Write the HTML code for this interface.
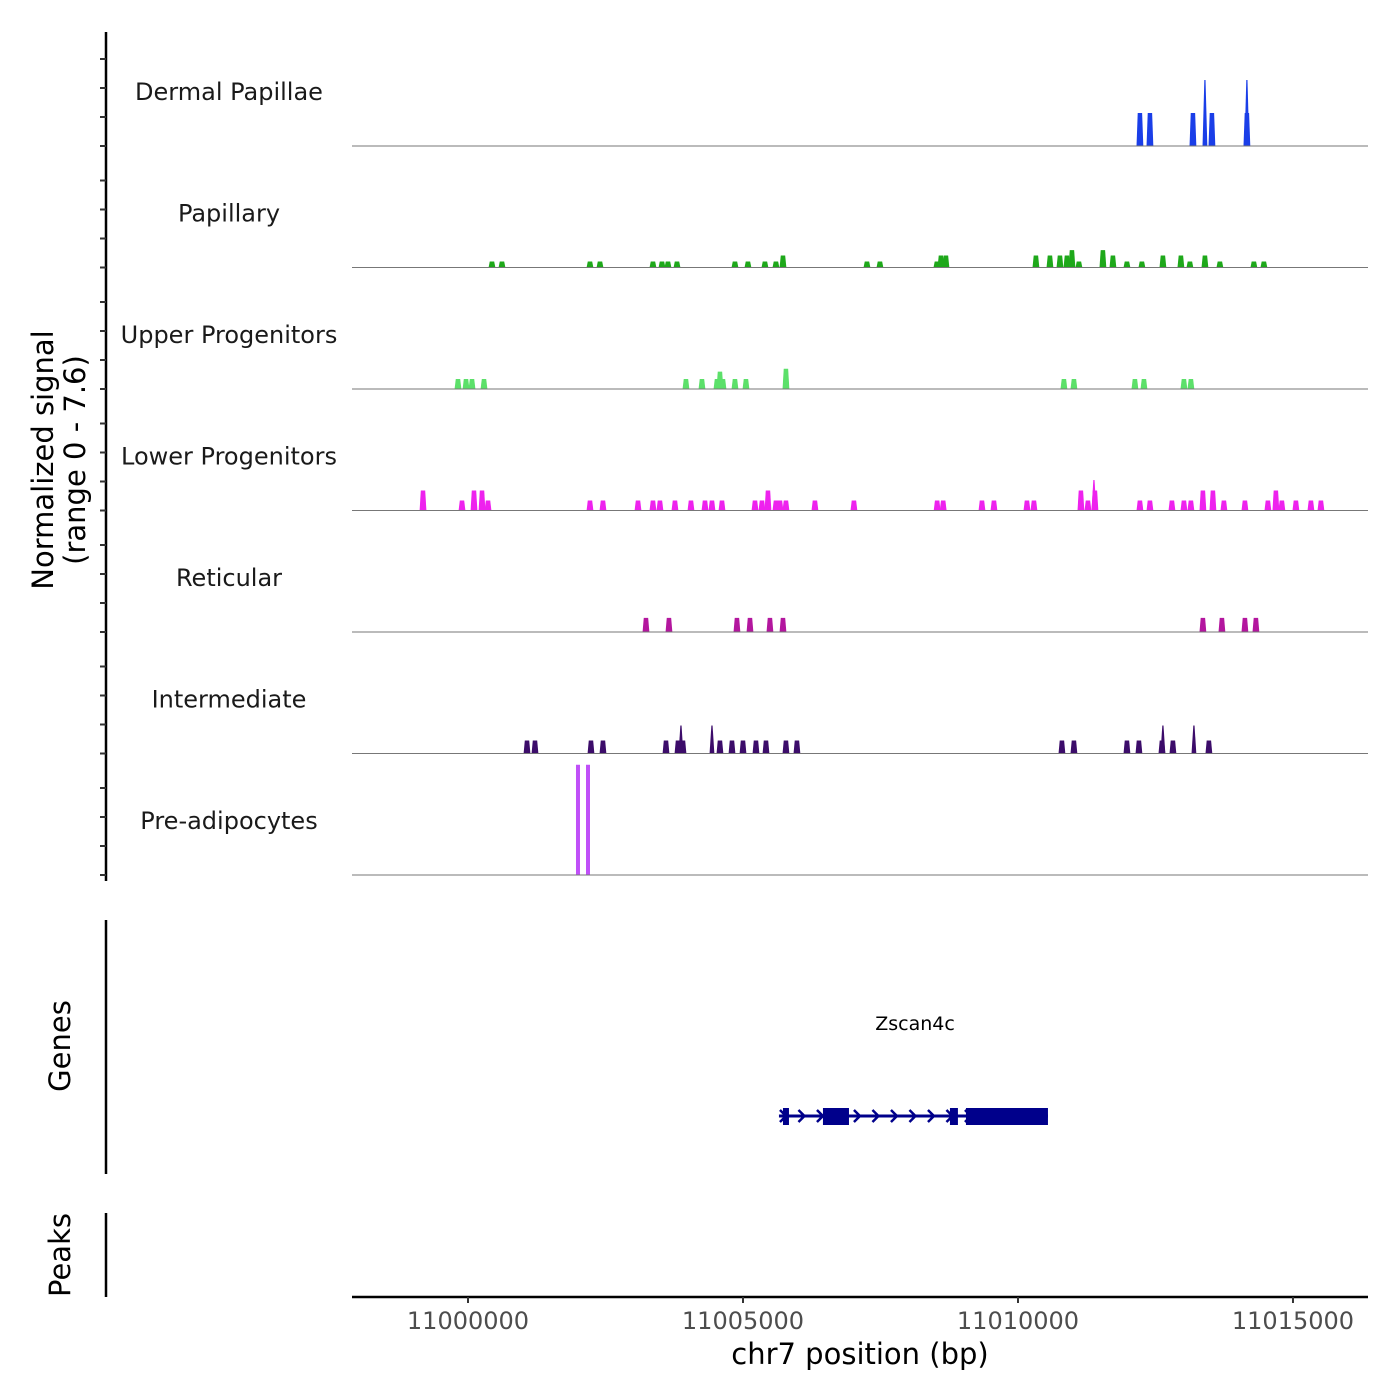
<!DOCTYPE html>
<html><head><meta charset="utf-8"><style>
html,body{margin:0;padding:0;background:#fff;}
svg{display:block;font-family:"DejaVu Sans","Liberation Sans",sans-serif;}
</style></head><body>
<svg id="chart" width="1400" height="1400" viewBox="0 0 1400 1400"></svg>
<script>
// ---- data ----
const trackNames = ["Dermal Papillae","Papillary","Upper Progenitors","Lower Progenitors","Reticular","Intermediate","Pre-adipocytes"];
const trackColors = ["#1a3ee8","#1ea81a","#5ce06a","#ee22ee","#b3169e","#3c0c6a","#c050f8"];
const dpPos = [11012217,11012399,11013181,11013399,11013526,11014162,11014162];
const dpVal = [2.28,2.28,2.28,4.55,2.28,2.28,4.55];
const papPos = [11000436,11000618,11002218,11002400,11003363,11003527,11003636,11003800,11004854,11005090,11005399,11005599,11005727,11007254,11007490,11008526,11008599,11008690,11010326,11010581,11010763,11010890,11010981,11011108,11011544,11011726,11011981,11012253,11012635,11012962,11013126,11013399,11013671,11014289,11014471];
const papVal = [.41,.41,.41,.41,.41,.41,.41,.41,.41,.41,.41,.41,.83,.41,.41,.41,.83,.83,.83,.83,.83,.83,1.2,.41,1.2,.83,.41,.41,.83,.83,.41,.83,.41,.41,.41];
const upPos = [10999818,10999964,11000073,11000291,11003963,11004254,11004527,11004581,11004636,11004854,11005054,11005781,11010835,11011017,11012126,11012290,11013017,11013144];
const upVal = [.69,.69,.69,.69,.69,.69,.69,1.2,.69,.69,.69,1.4,.69,.69,.69,.69,.69,.69];
const lowPos = [10999182,10999891,11000109,11000255,11000364,11002218,11002454,11003091,11003363,11003490,11003763,11004054,11004309,11004436,11004618,11005218,11005345,11005454,11005599,11005672,11005781,11006308,11007017,11008530,11008640,11009345,11009563,11010163,11010290,11011144,11011272,11011381,11011399,11012217,11012399,11012799,11013017,11013144,11013362,11013544,11013744,11014126,11014544,11014689,11014798,11015053,11015326,11015508];
const lowVal = [1.38,.69,1.38,1.38,.69,.69,.69,.69,.69,.69,.69,.69,.69,.69,.69,.69,.69,1.38,.69,.69,.69,.69,.69,.69,.69,.69,.69,.69,.69,1.38,.69,2.1,1.38,.69,.69,.69,.69,.69,1.38,1.38,.69,.69,.69,1.38,.69,.69,.69,.69];
const retPos = [11003236,11003654,11004890,11005127,11005490,11005727,11013362,11013708,11014126,11014326];
const retVal = [.97,.97,.97,.97,.97,.97,.97,.97,.97,.97];
const intPos = [11001073,11001218,11002236,11002454,11003600,11003818,11003872,11003909,11004436,11004581,11004800,11005000,11005236,11005418,11005781,11005981,11010799,11011017,11011981,11012199,11012617,11012635,11012817,11013199,11013471];
const intVal = [.9,.9,.9,.9,.9,.9,1.93,.9,1.93,.9,.9,.9,.9,.9,.9,.9,.9,.9,.9,.9,.9,1.93,.9,1.93,.9];
const prePos = [11002000,11002182];
const preVal = [7.6,7.6];
const xTicks = [11000000,11005000,11010000,11015000];
const geneStart = 11005654, geneEnd = 11010545;
const exonStarts = [11005727,11006454,11008763,11009054];
const exonEnds = [11005836,11006927,11008908,11010545];

// ---- scales ----
const X0 = 352, X1 = 1368, BP0 = 10997891, BP1 = 11016364;
const xs = bp => X0 + (bp - BP0) / (BP1 - BP0) * (X1 - X0);
const baselines = [146,267.5,389,510.5,632,753.5,875];
const ys = (t, v) => baselines[t] - v * 14.5;

const svg = document.getElementById('chart');
const NS = 'http://www.w3.org/2000/svg';
function mk(tag, attrs, parent){ const e=document.createElementNS(NS,tag); for(const k in attrs) e.setAttribute(k,attrs[k]); (parent||svg).appendChild(e); return e; }

const series = [[dpPos,dpVal],[papPos,papVal],[upPos,upVal],[lowPos,lowVal],[retPos,retVal],[intPos,intVal],[prePos,preVal]];
series.forEach((s,t)=>{
  const g = mk('g',{});
  
  
  const lab = mk('text',{x:229,y:baselines[t]-46,'text-anchor':'middle','font-size':24,fill:'#1a1a1a'},g);
  lab.textContent = trackNames[t];
  
  
  const [pos,val] = s;
  pos.forEach((p,i)=>{
    const v = val[i], b = baselines[t], top = ys(t,v);
    const spike = (t===0 && v>4) || (t>0 && t<6 && v>1.5 && t!==3) || (t===3 && v>2);
    const hw = spike ? 2.4 : 3.4, slope = t===6 ? 0 : (spike ? 1.8 : 1.2);
    const cx = xs(p);
    const pts = t===6 ? `${cx-2},${b} ${cx-2},${top} ${cx+2},${top} ${cx+2},${b}` :
      `${cx-hw},${b} ${cx-hw+slope},${top} ${cx+hw-slope},${top} ${cx+hw},${b}`;
    const pk = mk('polygon',{points:pts,fill:trackColors[t]},g);
    
    
  });
  const bl = mk('line',{x1:X0,x2:X1,y1:baselines[t],y2:baselines[t],stroke:'#777','stroke-width':1},g);
  
  
});

// left y axis
const ya = mk('line',{x1:106,x2:106,y1:32,y2:881,stroke:'#000','stroke-width':2.5});


baselines.forEach(b=>{
  [0,2,4,6].forEach(v=>{
    const tk = mk('line',{x1:100,x2:106,y1:b-v*14.5,y2:b-v*14.5,stroke:'#333','stroke-width':2});
    
    
  });
});
const yt = mk('text',{transform:'translate(53,460) rotate(-90)','text-anchor':'middle','font-size':29,fill:'#000'});


const t1 = mk('tspan',{x:0,dy:0},yt); t1.textContent='Normalized signal';
const t2 = mk('tspan',{x:0,dy:32},yt); t2.textContent='(range 0 - 7.6)';

// genes panel
const ga = mk('line',{x1:106,x2:106,y1:920,y2:1174,stroke:'#000','stroke-width':2.5});


const gt = mk('text',{transform:'translate(70,1046) rotate(-90)','text-anchor':'middle','font-size':29,fill:'#000'});
gt.textContent='Genes';


const gl = mk('text',{x:915,y:1030,'text-anchor':'middle','font-size':19,fill:'#000'});
gl.textContent='Zscan4c';


const gline = mk('line',{x1:xs(geneStart),x2:xs(geneEnd),y1:1116,y2:1116,stroke:'#00008b','stroke-width':3});


for(let x=xs(geneStart)+4; x<xs(geneEnd)-80; x+=18.5){
  const ch = mk('polyline',{points:`${x-3},${1110} ${x+3},${1116} ${x-3},${1122}`,fill:'none',stroke:'#00008b','stroke-width':2.5});
  
  
}
exonStarts.forEach((s,i)=>{
  const ex = mk('rect',{x:xs(s),y:1108,width:xs(exonEnds[i])-xs(s),height:17,fill:'#00008b'});
  
  
});

// peaks panel
const pa = mk('line',{x1:106,x2:106,y1:1213,y2:1297,stroke:'#000','stroke-width':2.5});


const pt = mk('text',{transform:'translate(70,1255) rotate(-90)','text-anchor':'middle','font-size':29,fill:'#000'});
pt.textContent='Peaks';



// x axis
const xa = mk('line',{x1:X0,x2:X1,y1:1297,y2:1297,stroke:'#000','stroke-width':2.5});


xTicks.forEach(v=>{
  const tk = mk('line',{x1:xs(v),x2:xs(v),y1:1297,y2:1303,stroke:'#333','stroke-width':2});
  
  
  const tl = mk('text',{x:xs(v),y:1329,'text-anchor':'middle','font-size':24,fill:'#4d4d4d'});
  tl.textContent = String(v);
  
  
});
const xt = mk('text',{x:860,y:1364,'text-anchor':'middle','font-size':29,fill:'#000'});
xt.textContent='chr7 position (bp)';


</script>
</body></html>
